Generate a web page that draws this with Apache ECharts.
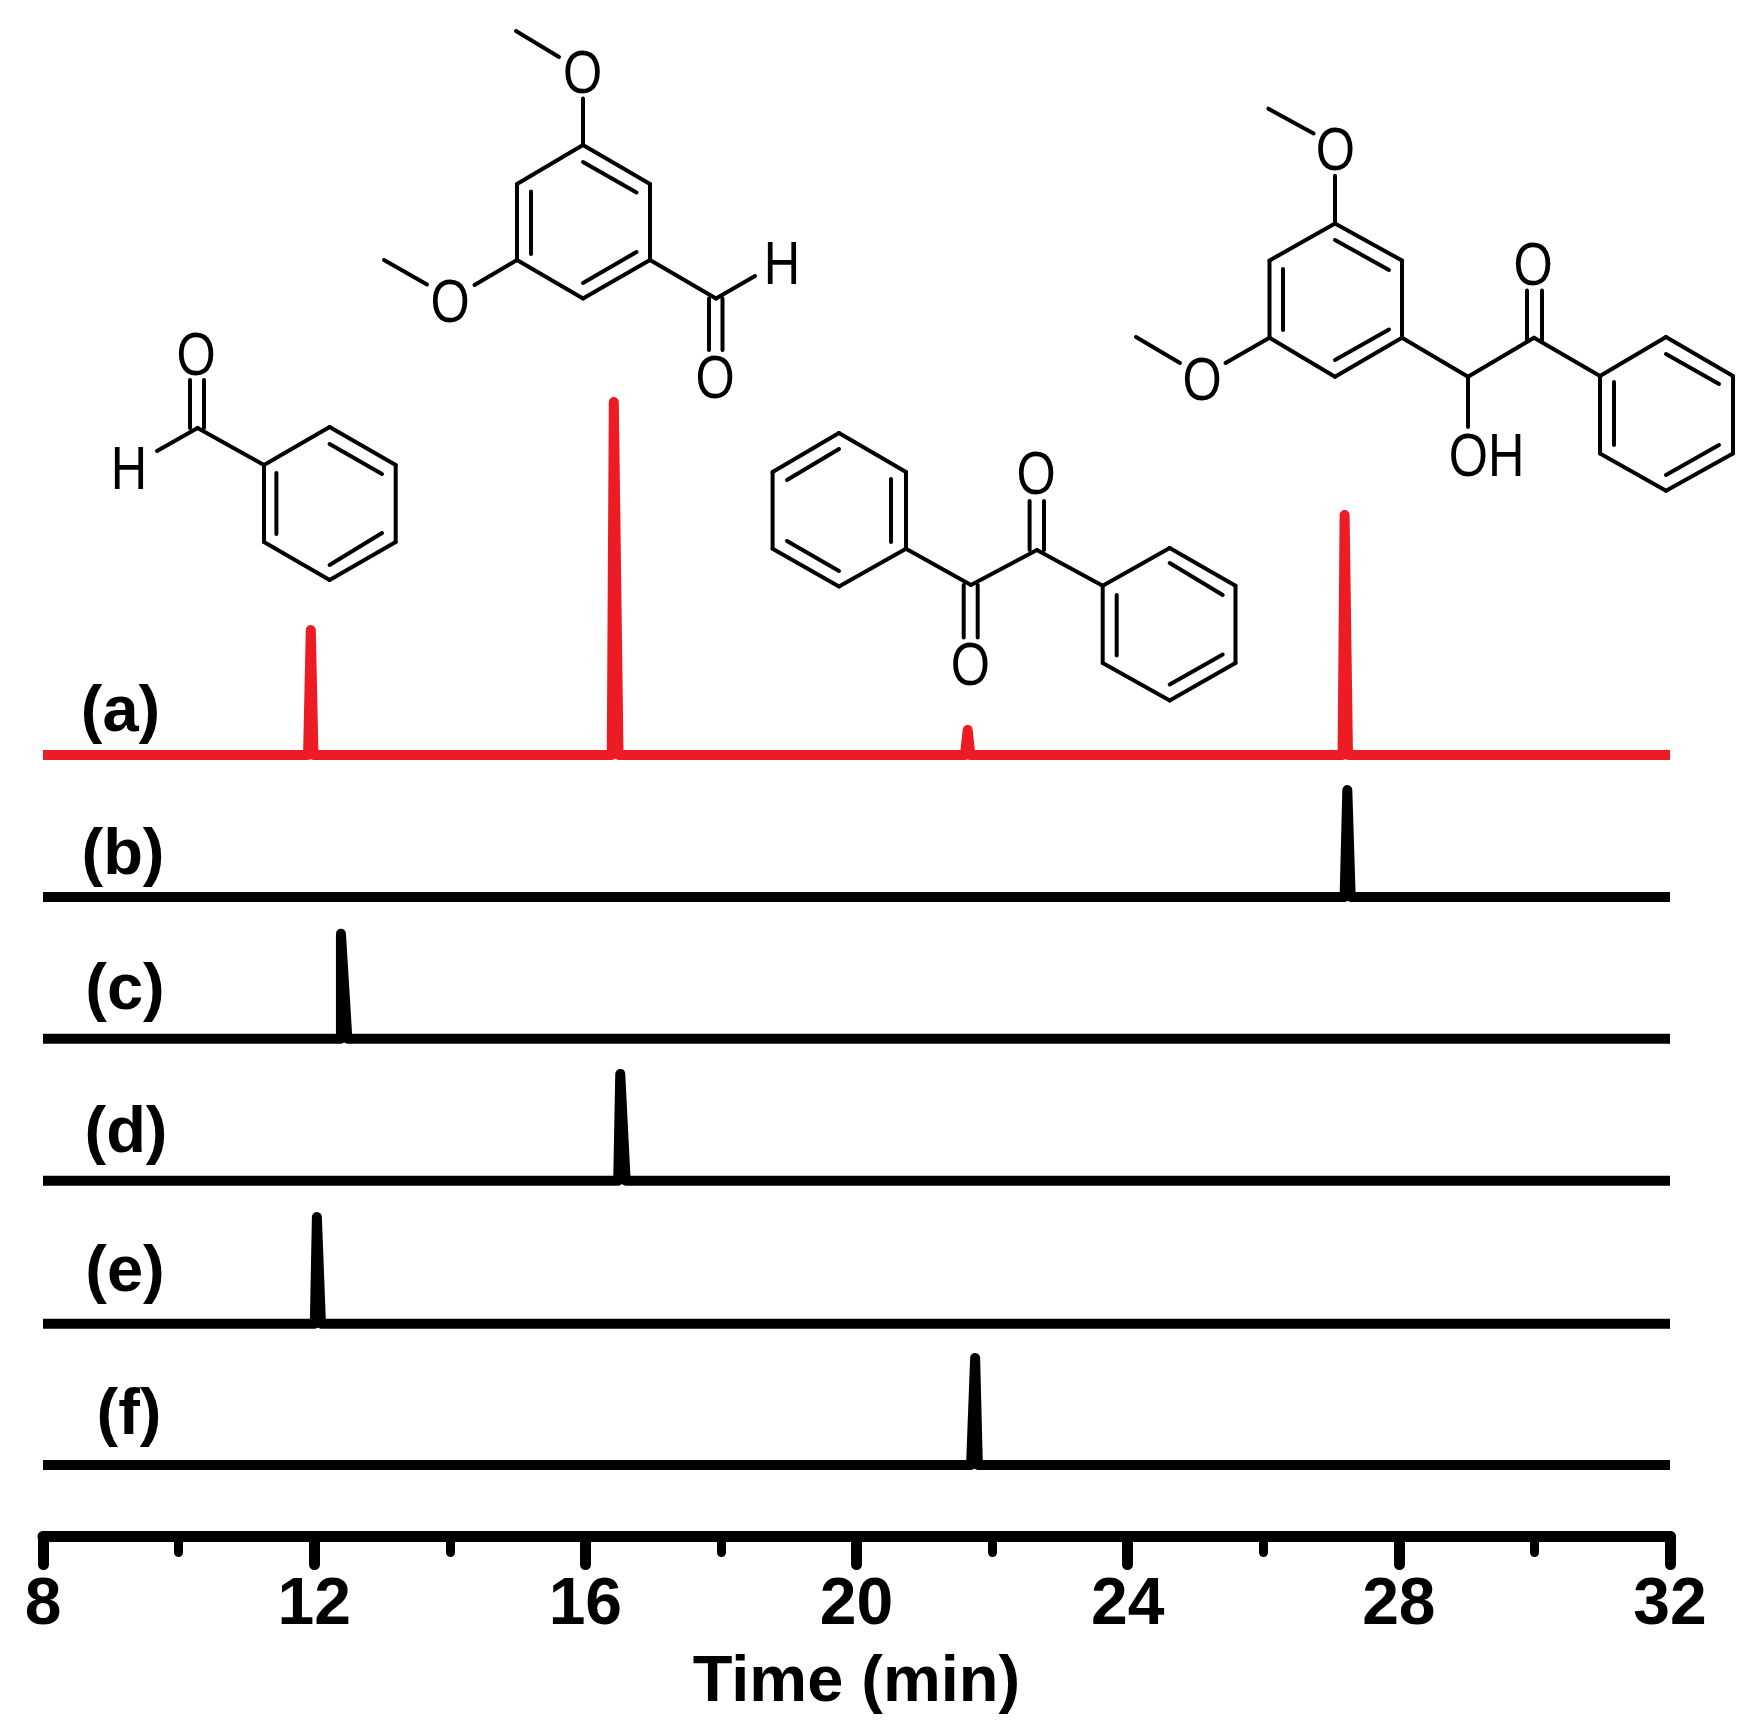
<!DOCTYPE html>
<html>
<head>
<meta charset="utf-8">
<style>html,body{margin:0;padding:0;background:#fff}#chart{width:1745px;height:1722px}</style>
<script src="https://cdn.jsdelivr.net/npm/echarts@6/dist/echarts.min.js"></script>
</head>
<body>
<div id="chart"></div>
<script>
// Retention time (min) and detector signal (a.u., above each trace's baseline)
const timesA = [8, 11.91, 11.95, 11.99, 16.39, 16.42, 16.49, 21.60, 21.64, 21.68, 27.17, 27.20, 27.25, 32];
const signalA = [0, 0, 125, 0, 0, 353, 0, 0, 25, 0, 0, 240, 0, 0];
const timesB = [8, 27.20, 27.24, 27.29, 32];
const signalB = [0, 0, 107, 0, 0];
const timesC = [8, 12.395, 12.395, 12.49, 32];
const signalC = [0, 0, 105, 0, 0];
const timesD = [8, 16.485, 16.515, 16.595, 32];
const signalD = [0, 0, 106.7, 0, 0];
const timesE = [8, 12.01, 12.04, 12.10, 32];
const signalE = [0, 0, 106.7, 0, 0];
const timesF = [8, 21.69, 21.75, 21.79, 32];
const signalF = [0, 0, 107, 0, 0];
// Vertical offset of each stacked trace
const offsets = [781.5, 639.5, 497.8, 355.8, 212.8, 71.5];
const traceNames = ['(a)', '(b)', '(c)', '(d)', '(e)', '(f)'];
const traceColors = ['#ED1C24', '#000', '#000', '#000', '#000', '#000'];
const labelPos = [[120.5, 713], [123, 856], [125, 991], [126, 1134], [125, 1273], [129, 1416]];
const axisTitle = 'Time (min)';

// Structural formulae (annotation drawing)
const bonds = [
  // benzaldehyde
  [329.6,427,395.7,465],[395.7,465,395.7,542],[395.7,542,329.6,580],[329.6,580,264,542],[264,542,264,465],[264,465,329.6,427],
  [329.6,444,382,474],[382,533,329.6,565],[276.4,473,276.4,534],
  [264,465,197.6,428],[197.6,428,157,451],[190,380,190,428],[204,380,204,428],
  // 3,5-dimethoxybenzaldehyde
  [583,145,650,184],[650,184,650,260],[650,260,583,298.5],[583,298.5,517,260],[517,260,517,184],[517,184,583,145],
  [583,162,636.5,192.5],[636.5,252,583,283],[531,191.5,531,254],
  [583,145,583,98.5],[559,57,516,31],
  [517,260,474.5,285],[427,284.6,384,260],
  [650,260,716,298.5],[716,298.5,755,276],[709,298.5,709,350],[722.5,298.5,722.5,350],
  // dimethoxy benzoin
  [1335,223.5,1402,260.6],[1402,260.6,1402,337.8],[1402,337.8,1335,376.8],[1335,376.8,1269.5,337.8],[1269.5,337.8,1269.5,260.6],[1269.5,260.6,1335,223.5],
  [1335,240,1389,270],[1389,329.5,1335,360],[1283,269,1283,330],
  [1335,223.5,1335,175.7],[1313.6,133.5,1268.4,108.7],
  [1269.5,337.8,1225.5,363],[1180,363,1136,337],
  [1402,337.8,1468,376.8],[1468,376.8,1534,337.8],[1534,337.8,1600,376],
  [1468,376.8,1468,427],[1527,290.5,1527,340],[1542,290.5,1542,340],
  [1600,376,1666,337],[1666,337,1733,376],[1733,376,1733,453.5],[1733,453.5,1666,490.7],[1666,490.7,1600,453.5],[1600,453.5,1600,376],
  [1666,354,1719,384],[1719,445,1666,475],[1614,382,1614,445],
  // benzil
  [1102.7,585.7,1169.7,548],[1169.7,548,1235.5,585.7],[1235.5,585.7,1235.5,663],[1235.5,663,1169.7,700.5],[1169.7,700.5,1102.7,663],[1102.7,663,1102.7,585.7],
  [1169.7,563,1222.7,595],[1222.7,654.6,1169.7,684.4],[1116.7,595,1116.7,655.5],
  [1102.7,585.7,1036.9,550],[1036.9,550,971,585],[971,585,906,548.7],
  [1029.6,501,1029.6,550],[1044,501,1044,550],[963.7,585,963.7,637.6],[977.7,585,977.7,637.6],
  [839,433,906,472],[906,472,906,548.7],[906,548.7,839,586.5],[839,586.5,772.6,548.7],[772.6,548.7,772.6,472],[772.6,472,839,433],
  [787,480,839,449],[787,541,839,571],[891,479,891,542]
];
const atoms = [
  ['O',196,354],['H',129,468],
  ['O',582.7,72],['O',450,301],['H',782,263],['O',715,377],
  ['O',1335.4,149.5],['O',1202,378.6],['O',1533,264],['OH',1486.5,455],
  ['O',1036,473],['O',970.4,664]
];

const toData = (t, s, off) => t.map((x, i) => [x, s[i] + off]);
const traces = [[timesA, signalA], [timesB, signalB], [timesC, signalC], [timesD, signalD], [timesE, signalE], [timesF, signalF]];

const graphics = [];
bonds.forEach(b => graphics.push({
  type: 'line', silent: true,
  shape: { x1: b[0], y1: b[1], x2: b[2], y2: b[3] },
  style: { stroke: '#000', lineWidth: 4, lineCap: 'round' }
}));
atoms.forEach(a => graphics.push({
  type: 'text', silent: true, x: a[1], y: a[2] + 4, scaleY: 1.18, scaleX: 0.97,
  style: { text: a[0], fill: '#000', font: '52px "Liberation Sans"', textAlign: 'center', textVerticalAlign: 'middle' }
}));
traceNames.forEach((n, i) => graphics.push({
  type: 'text', silent: true, x: labelPos[i][0], y: labelPos[i][1],
  style: { text: n, fill: '#000', font: 'bold 65px "Liberation Sans"', textAlign: 'center', textVerticalAlign: 'middle' }
}));

const chart = echarts.init(document.getElementById('chart'), null, { renderer: 'canvas' });
chart.setOption({
  animation: false,
  backgroundColor: '#fff',
  grid: { left: 43, right: 75, top: 0, bottom: 185.5 },
  xAxis: {
    type: 'value', min: 8, max: 32, interval: 4,
    splitLine: { show: false },
    axisLine: { onZero: false, lineStyle: { color: '#000', width: 11, cap: 'round' } },
    axisTick: { length: 28, lineStyle: { color: '#000', width: 11, cap: 'round' } },
    minorTick: { show: true, splitNumber: 2, length: 16, lineStyle: { color: '#000', width: 9, cap: 'round' } },
    axisLabel: { color: '#000', fontFamily: 'Liberation Sans', fontWeight: 'bold', fontSize: 66, margin: 36, hideOverlap: false },
    name: axisTitle, nameLocation: 'middle', nameGap: 114,
    nameTextStyle: { color: '#000', fontFamily: 'Liberation Sans', fontWeight: 'bold', fontSize: 65 }
  },
  yAxis: { type: 'value', min: 0, max: 1536.5, show: false, splitLine: { show: false } },
  series: traces.map((tr, i) => ({
    name: traceNames[i], type: 'line', showSymbol: false, symbol: 'none', smooth: false,
    clip: false, z: 3, silent: true,
    lineStyle: { color: traceColors[i], width: 10, cap: 'butt', join: 'round' },
    data: toData(tr[0], tr[1], offsets[i])
  })),
  graphic: graphics
});
</script>
</body>
</html>
